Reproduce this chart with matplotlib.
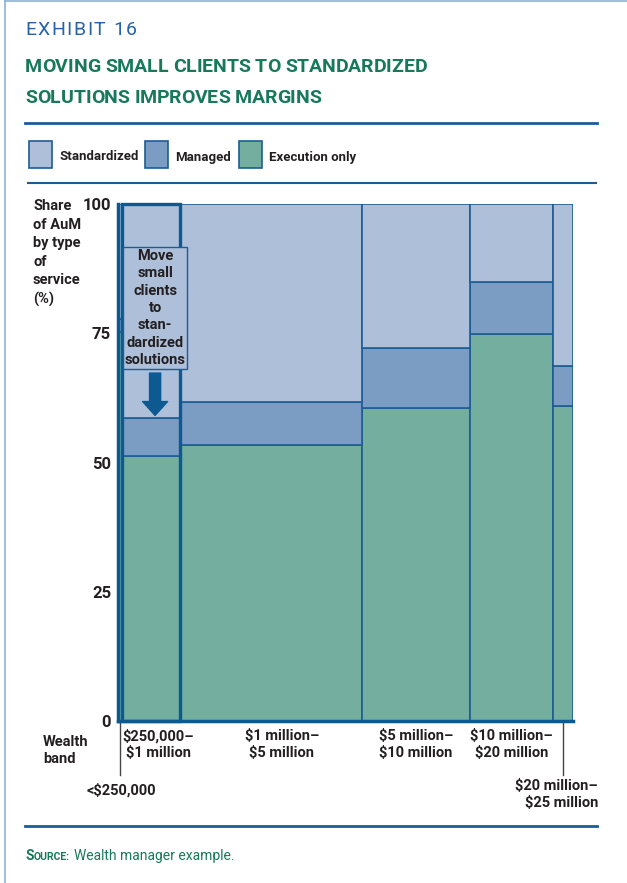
import numpy as np
import matplotlib.pyplot as plt
from matplotlib.patches import Rectangle
from matplotlib.lines import Line2D
from matplotlib.transforms import blended_transform_factory

plt.rcParams['font.family'] = ['Roboto', 'DejaVu Sans']

# wealth bands, left to right, with the width each one takes on the x axis
bands = ["<$250,000", "$250,000–\n$1 million", "$1 million–\n$5 million",
         "$5 million–\n$10 million", "$10 million–\n$20 million", "$20 million–\n$25 million"]
band_width = [0.9, 12.7, 40.0, 23.7, 18.3, 4.4]

# share of AuM by type of service (%)
execution_only = [75.2, 51.3, 53.4, 60.5, 74.9, 61.0]
managed = [2.6, 7.3, 8.3, 11.6, 10.0, 7.7]
standardized = [100 - e - m for e, m in zip(execution_only, managed)]

yticks = [0, 25, 50, 75, 100]

c_std = "#adbfd9"
c_man = "#7b9cc3"
c_exe = "#73ae9e"
c_edge = "#1d5d94"
c_dark = "#0d5a92"
c_text = "#231f20"
c_green = "#18795a"
c_blue = "#2563a6"

W, H = 627, 883
fig = plt.figure(figsize=(W / 100, H / 100), dpi=100)
r = fig.canvas.get_renderer()


def fx(px):
    return px / W


def fy(py):
    return 1 - py / H


def spaced(x, y, s, width, **kw):
    # lay a string out letter by letter, spreading it to the given pixel width
    chars = [fig.text(0, fy(y), ch, **kw) for ch in s]
    widths = [t.get_window_extent(r).width for t in chars]
    track = (width - sum(widths)) / (len(s) - 1)
    px = x
    for t, w in zip(chars, widths):
        t.set_x(fx(px))
        px += w + track


# page frame
fig.add_artist(Line2D([fx(5), fx(5)], [0, 1], color="#8fb3d6", lw=1.2))
fig.add_artist(Line2D([fx(5), 1], [fy(1), fy(1)], color="#8fb3d6", lw=1.2))

spaced(25, 30, "EXHIBIT 16", 112, color=c_blue, fontsize=14, va="center")
spaced(25, 67, "MOVING SMALL CLIENTS TO STANDARDIZED", 402, color=c_green,
       fontsize=14, fontweight="bold", va="center")
spaced(25, 98, "SOLUTIONS IMPROVES MARGINS", 296, color=c_green,
       fontsize=14, fontweight="bold", va="center")

for y, x0, x1, lw in [(123, 25, 597, 2), (183, 28, 596, 1.5), (826, 25, 597, 2)]:
    fig.add_artist(Line2D([fx(x0), fx(x1)], [fy(y), fy(y)], color=c_edge, lw=lw))

# legend
for x, col, lab in [(29, c_std, "Standardized"), (145, c_man, "Managed"), (239, c_exe, "Execution only")]:
    fig.add_artist(Rectangle((fx(x), fy(168)), fx(23), 27 / H, facecolor=col,
                             edgecolor=c_edge, lw=1.2, transform=fig.transFigure))
    fig.text(fx(x + 30), fy(157), lab, fontsize=9.5, fontweight="bold",
             color=c_text, va="center")

# stacked variable-width bars
ax = fig.add_axes([fx(118), fy(721), fx(573 - 118), (721 - 204) / H])
lefts = np.concatenate([[0], np.cumsum(band_width)[:-1]])
centers = lefts + np.array(band_width) / 2
ax.bar(lefts, execution_only, width=band_width, align="edge",
       color=c_exe, edgecolor=c_edge, lw=1.2)
ax.bar(lefts, managed, width=band_width, bottom=execution_only, align="edge",
       color=c_man, edgecolor=c_edge, lw=1.2)
ax.bar(lefts, standardized, width=band_width,
       bottom=np.add(execution_only, managed), align="edge",
       color=c_std, edgecolor=c_edge, lw=1.2)

ax.set_xlim(0, sum(band_width))
ax.set_ylim(0, 100)
ax.set_xticks([])
ax.set_yticks(yticks)
ax.set_yticklabels([str(v) for v in yticks], fontsize=12, fontweight="bold", color=c_text)
ax.tick_params(axis="y", length=0, pad=5)
for side in ["top", "right"]:
    ax.spines[side].set_visible(False)
for side in ["left", "bottom"]:
    ax.spines[side].set_color(c_dark)
    ax.spines[side].set_linewidth(2.5)

# highlighted band and call-out
ax.add_patch(Rectangle((lefts[1], 0), band_width[1], 100, fill=False,
                       edgecolor=c_dark, lw=2.4, zorder=5, clip_on=False))
x_call = centers[1] + 0.9
ax.text(x_call, 79.9, "Move\nsmall\nclients\nto\nstan-\ndardized\nsolutions",
        ha="center", va="center", fontsize=10.5, fontweight="bold", color=c_text,
        linespacing=1.3, zorder=6,
        bbox=dict(boxstyle="square,pad=0.12", facecolor=c_std, edgecolor=c_edge, lw=1))
ax.annotate("", xy=(x_call, 59.1), xytext=(x_call, 67.3),
            arrowprops=dict(width=8, headwidth=18, headlength=10,
                            facecolor=c_dark, edgecolor=c_dark), zorder=6)

# wealth band labels
tr = blended_transform_factory(ax.transData, ax.transAxes)
label_shift = [0, 1.6, 2.4, 0, 0, 0]
for i in range(1, 5):
    ax.text(centers[i] + label_shift[i], -0.016, bands[i], transform=tr,
            ha="center", va="top", fontsize=10.5, fontweight="bold", color=c_text,
            linespacing=1.25)
for i in [0, 5]:
    ax.add_artist(Line2D([centers[i], centers[i]], [0, -0.105], transform=tr,
                         color="#444444", lw=1, clip_on=False))
ax.text(centers[0] + 0.3, -0.12, bands[0], transform=tr, ha="center", va="top",
        fontsize=10.5, fontweight="bold", color=c_text)
fig.text(fx(598), fy(779), bands[5], ha="right", va="top", multialignment="right",
         fontsize=10.5, fontweight="bold", color=c_text, linespacing=1.25)

fig.text(fx(33), fy(199), "Share\nof AuM\nby type\nof\nservice\n(%)", ha="left", va="top",
         fontsize=10.5, fontweight="bold", color=c_text, linespacing=1.42)
fig.text(fx(43), fy(735), "Wealth\nband", ha="left", va="top",
         fontsize=10.5, fontweight="bold", color=c_text, linespacing=1.25)

# source line
t = fig.text(fx(25), fy(860), "S", fontsize=10, fontweight="bold", color=c_green, va="baseline")
x = 25 + t.get_window_extent(r).width
t = fig.text(fx(x), fy(860), "OURCE:", fontsize=7.5, fontweight="bold", color=c_green, va="baseline")
x += t.get_window_extent(r).width + 4
fig.text(fx(x), fy(860), "Wealth manager example.", fontsize=10, color=c_green, va="baseline")

fig.savefig("out.png", dpi=100)
